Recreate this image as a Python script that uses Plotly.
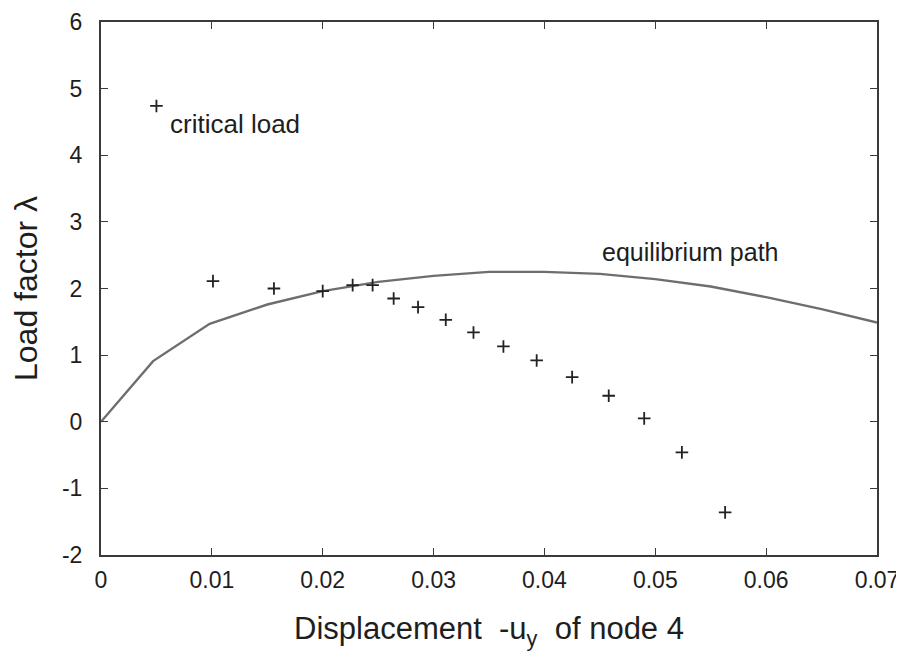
import plotly.graph_objects as go

# equilibrium path (solid curve)
path_x = [0.0, 0.0047, 0.0098, 0.015, 0.020, 0.025, 0.030, 0.035, 0.040, 0.045, 0.050, 0.055, 0.060, 0.065, 0.070]
path_y = [0.0, 0.91, 1.47, 1.76, 1.96, 2.10, 2.19, 2.25, 2.25, 2.22, 2.14, 2.03, 1.87, 1.69, 1.49]

# critical load points (+ markers)
crit_x = [0.0050, 0.0101, 0.0156, 0.0200, 0.0227, 0.0245, 0.0264, 0.0286, 0.0311, 0.0336,
          0.0363, 0.0393, 0.0425, 0.0458, 0.0490, 0.0524, 0.0563]
crit_y = [4.74, 2.11, 2.00, 1.96, 2.05, 2.05, 1.85, 1.72, 1.53, 1.34,
          1.13, 0.92, 0.67, 0.39, 0.05, -0.46, -1.36]

x_ticks = [0, 0.01, 0.02, 0.03, 0.04, 0.05, 0.06, 0.07]
x_tick_labels = ["0", "0.01", "0.02", "0.03", "0.04", "0.05", "0.06", "0.07"]
y_ticks = [-2, -1, 0, 1, 2, 3, 4, 5, 6]
y_tick_labels = ["-2", "-1", "0", "1", "2", "3", "4", "5", "6"]

FONT = "Liberation Sans, Arial, Helvetica, sans-serif"
TXT = "#1e1e1e"

fig = go.Figure()
fig.add_trace(go.Scatter(x=path_x, y=path_y, mode="lines",
                         line=dict(color="#6e6e6e", width=2.4), showlegend=False))
fig.add_trace(go.Scatter(x=crit_x, y=crit_y, mode="markers",
                         marker=dict(symbol="cross-thin", size=9,
                                     line=dict(color="#222222", width=1.8)),
                         showlegend=False))

fig.add_annotation(x=0.0060, y=4.47, text="critical load", showarrow=False,
                   xanchor="left", yanchor="middle",
                   font=dict(family=FONT, size=26, color=TXT))
fig.add_annotation(x=0.0450, y=2.55, text="equilibrium path", showarrow=False,
                   xanchor="left", yanchor="middle",
                   font=dict(family=FONT, size=25, color=TXT))

axis_common = dict(showline=True, linecolor="#3a3a3a", linewidth=2, mirror="ticks",
                   ticks="inside", ticklen=7, tickwidth=1.3, tickcolor="#3a3a3a",
                   showgrid=False, zeroline=False, automargin=False,
                   tickfont=dict(family=FONT, size=23, color=TXT))

fig.update_xaxes(range=[0, 0.07], tickvals=x_ticks, ticktext=x_tick_labels,
                 ticklabelstandoff=3,
                 title=dict(text="Displacement  -u<sub>y</sub>  of node 4",
                            font=dict(family=FONT, size=31, color=TXT),
                            standoff=26),
                 **axis_common)
fig.update_yaxes(range=[-2, 6], tickvals=y_ticks, ticktext=y_tick_labels,
                 ticklabelstandoff=12,
                 title=dict(text="Load factor λ",
                            font=dict(family=FONT, size=32, color=TXT),
                            standoff=16),
                 **axis_common)

fig.update_layout(width=896, height=643,
                  margin=dict(l=93, r=27, t=14, b=96),
                  plot_bgcolor="white", paper_bgcolor="white",
                  font=dict(family=FONT))

fig.write_html("out.html")
